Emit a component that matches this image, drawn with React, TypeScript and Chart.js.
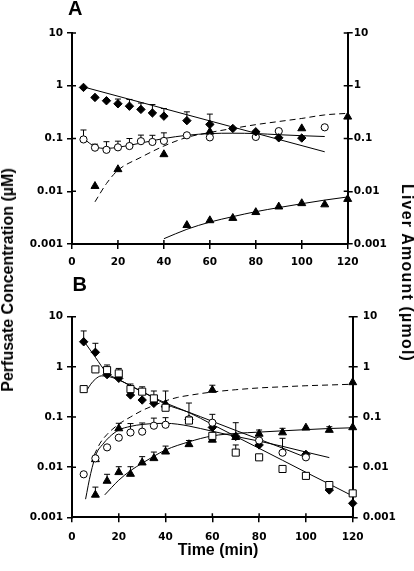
import { useEffect, useRef } from "react";
import { Chart, registerables } from "chart.js";
Chart.register(...registerables);

// ---------- shared axis ticks ----------
const xTickValues = [0, 20, 40, 60, 80, 100, 120];
const yTickValues = [0.001, 0.01, 0.1, 1, 10];
const yTickLabels = ["0.001", "0.01", "0.1", "1", "10"];

// ---------- Panel A ----------
const aDiaT = [5, 10, 15, 20, 25, 30, 35, 40, 50, 60, 70, 80, 90, 100];
const aDiaV = [0.93, 0.6, 0.52, 0.455, 0.41, 0.356, 0.305, 0.265, 0.218, 0.185, 0.155, 0.134, 0.103, 0.102];
const aDiaErr = [null, null, null, 0.56, 0.55, 0.47, 0.44, 0.37, 0.32, 0.29, null, null, null, null];

const aCirT = [5, 10, 15, 20, 25, 30, 35, 40, 50, 60, 80, 90, 110];
const aCirV = [0.096, 0.067, 0.061, 0.068, 0.072, 0.089, 0.086, 0.09, 0.115, 0.105, 0.107, 0.138, 0.163];
const aCirErr = [0.145, 0.078, 0.087, 0.089, 0.1, 0.116, 0.115, 0.128, null, null, null, null, null];

const aTriUpT = [10, 20, 40, 60, 100, 120];
const aTriUpV = [0.0125, 0.026, 0.05, 0.134, 0.155, 0.258];

const aTriLowT = [50, 60, 70, 80, 90, 100, 110, 120];
const aTriLowV = [0.00227, 0.0028, 0.0031, 0.004, 0.0051, 0.0059, 0.0056, 0.0071];

const aDiaFitT = [5, 110];
const aDiaFitV = [0.95, 0.056];
const aCirFitT = [5, 10, 15, 20, 30, 40, 50, 60, 70, 80, 90, 100, 110];
const aCirFitV = [0.1, 0.07, 0.065, 0.068, 0.082, 0.1, 0.115, 0.124, 0.126, 0.124, 0.118, 0.113, 0.109];
const aDashFitT = [10, 15, 20, 30, 40, 50, 60, 70, 80, 90, 100, 110, 120];
const aDashFitV = [0.0063, 0.014, 0.025, 0.044, 0.072, 0.105, 0.13, 0.155, 0.183, 0.21, 0.24, 0.28, 0.3];
const aLowFitT = [40, 50, 60, 70, 80, 90, 100, 110, 120];
const aLowFitV = [0.00126, 0.0019, 0.0026, 0.0033, 0.0041, 0.0049, 0.0058, 0.0068, 0.0078];

// ---------- Panel B ----------
const bDiaT = [5, 10, 15, 20, 25, 30, 35, 40, 50, 60, 70, 80, 100, 110, 120];
const bDiaV = [3.16, 1.95, 0.7, 0.59, 0.275, 0.218, 0.187, 0.16, 0.09, 0.062, 0.041, 0.0277, 0.018, 0.0035, 0.0019];
const bDiaErr = [5.2, 2.95, null, null, null, null, null, null, null, null, null, null, null, null, null];

const bSqT = [5, 10, 15, 20, 25, 30, 35, 40, 50, 60, 70, 80, 90, 100, 110, 120];
const bSqV = [0.36, 0.89, 0.86, 0.74, 0.36, 0.32, 0.235, 0.153, 0.085, 0.042, 0.0195, 0.0157, 0.0092, 0.0067, 0.0044, 0.003];
const bSqErr = [null, null, 1.09, 0.93, 0.455, 0.4, 0.33, null, 0.19, null, 0.0277, null, null, null, null, null];

const bCirT = [5, 10, 15, 20, 25, 30, 35, 40, 50, 60, 80, 90, 100];
const bCirV = [0.0072, 0.015, 0.0248, 0.0387, 0.049, 0.051, 0.067, 0.07, 0.09, 0.077, 0.034, 0.0194, 0.0157];
const bCirErr = [null, null, null, null, 0.074, 0.076, 0.095, 0.097, null, 0.113, null, 0.0376, null];

const bTriT = [10, 15, 20, 25, 30, 35, 40, 50, 60, 70, 80, 90, 100, 110, 120];
const bTriV = [0.0028, 0.0053, 0.0079, 0.0073, 0.0123, 0.015, 0.0203, 0.0285, 0.035, 0.0395, 0.046, 0.049, 0.061, 0.055, 0.062];
const bTriErr = [0.004, 0.0072, 0.0102, 0.0102, 0.0162, 0.02, 0.0263, 0.034, 0.041, 0.077, 0.055, 0.0595, null, 0.064, null];

const bTriDT = [10, 20, 40, 60, 120];
const bTriDV = [0.0143, 0.059, 0.18, 0.345, 0.49];
const bTriDErr = [null, 0.075, 0.33, 0.43, null];

const bDiaFitT = [5, 10, 15, 20, 25, 30, 35, 40, 50, 60, 70, 80, 90, 100];
const bDiaFitV = [3.3, 1.55, 0.75, 0.56, 0.42, 0.32, 0.24, 0.18, 0.124, 0.082, 0.054, 0.036, 0.024, 0.0156];
const bSqFitT = [6.5, 8, 10, 12.5, 15, 20, 25, 30, 35, 40, 50, 60, 70, 80, 90, 100, 110, 120];
const bSqFitV = [0.35, 0.45, 0.57, 0.66, 0.65, 0.55, 0.42, 0.32, 0.245, 0.19, 0.123, 0.071, 0.041, 0.0237, 0.0137, 0.0079, 0.0046, 0.00266];
const bCirFitT = [5.8, 8, 10.5, 13, 16, 20, 25, 30, 35, 40, 45, 50, 60, 70, 80, 90, 100, 110];
const bCirFitV = [0.0023, 0.0075, 0.019, 0.028, 0.04, 0.055, 0.065, 0.071, 0.074, 0.075, 0.072, 0.066, 0.052, 0.041, 0.033, 0.026, 0.02, 0.0155];
const bDashFitT = [9.5, 12, 15, 20, 25, 30, 35, 40, 45, 50, 60, 70, 80, 90, 100, 110, 120];
const bDashFitV = [0.0175, 0.03, 0.045, 0.072, 0.1, 0.135, 0.17, 0.21, 0.245, 0.27, 0.315, 0.35, 0.38, 0.4, 0.42, 0.435, 0.45];
const bTriFitT = [14, 20, 25, 30, 35, 40, 50, 60, 70, 80, 90, 100, 110, 120];
const bTriFitV = [0.0028, 0.0055, 0.0085, 0.012, 0.0165, 0.022, 0.032, 0.042, 0.047, 0.05, 0.053, 0.056, 0.059, 0.061];

// ---------- helpers ----------
const pts = (t: number[], v: number[]) => t.map((x, i) => ({ x, y: v[i] }));

const diamond = { pointStyle: "rectRot", pointRadius: 4.2, pointBackgroundColor: "#000", pointBorderColor: "#000", pointBorderWidth: 1 };
const circle = { pointStyle: "circle", pointRadius: 3.6, pointBackgroundColor: "#fff", pointBorderColor: "#000", pointBorderWidth: 1 };
const triangle = { pointStyle: "triangle", pointRadius: 4.6, pointBackgroundColor: "#000", pointBorderColor: "#000", pointBorderWidth: 1 };
const square = { pointStyle: "rect", pointRadius: 5, pointBackgroundColor: "#fff", pointBorderColor: "#000", pointBorderWidth: 1 };

function markers(t: number[], v: number[], style: any, err: any[] | null, axis = "y") {
  return { data: pts(t, v), showLine: false, ...style, pointHoverRadius: style.pointRadius, errUpper: err, yAxisID: axis, order: 1, clip: false };
}
function fit(t: number[], v: number[], dashed: boolean, axis = "y") {
  return {
    data: pts(t, v), showLine: true, pointRadius: 0, borderColor: "#000", borderWidth: 1,
    borderDash: dashed ? [6, 4] : [], cubicInterpolationMode: "monotone", yAxisID: axis, order: 2, clip: false,
  };
}

const errorBars = {
  id: "errorBars",
  beforeDatasetsDraw(chart: any) {
    const ctx = chart.ctx;
    chart.data.datasets.forEach((ds: any, di: number) => {
      const err = ds.errUpper;
      if (!err) return;
      const meta = chart.getDatasetMeta(di);
      const ys = chart.scales[meta.yAxisID];
      ctx.save();
      ctx.strokeStyle = "#000";
      ctx.lineWidth = 1;
      meta.data.forEach((el: any, i: number) => {
        const e = err[i];
        if (e == null) return;
        const yt = ys.getPixelForValue(e);
        ctx.beginPath();
        ctx.moveTo(el.x, el.y);
        ctx.lineTo(el.x, yt);
        ctx.moveTo(el.x - 3, yt);
        ctx.lineTo(el.x + 3, yt);
        ctx.stroke();
      });
      ctx.restore();
    });
  },
};

const innerTicks = {
  id: "innerTicks",
  afterDraw(chart: any) {
    const ctx = chart.ctx;
    const { x, y, y2 } = chart.scales;
    const a = chart.chartArea;
    ctx.save();
    ctx.strokeStyle = "#000";
    ctx.lineWidth = 1.5;
    ctx.beginPath();
    xTickValues.forEach((v) => {
      const px = x.getPixelForValue(v);
      ctx.moveTo(px, a.bottom);
      ctx.lineTo(px, a.bottom - 4);
    });
    yTickValues.forEach((v) => {
      const py = y.getPixelForValue(v);
      ctx.moveTo(a.left, py);
      ctx.lineTo(a.left + 4, py);
      const py2 = y2.getPixelForValue(v);
      ctx.moveTo(a.right, py2);
      ctx.lineTo(a.right - 4, py2);
    });
    ctx.stroke();
    ctx.restore();
  },
};

const tickFont = { family: "'DejaVu Sans', sans-serif", size: 10.5, weight: "bold" };

function yAxis(position: string, width: number, padding: number) {
  return {
    type: "logarithmic",
    position,
    min: 0.001,
    max: 10,
    afterBuildTicks: (s: any) => { s.ticks = yTickValues.map((v) => ({ value: v })); },
    ticks: { font: tickFont, color: "#000", padding, autoSkip: false, callback: (_v: any, i: number) => yTickLabels[i] },
    grid: { drawOnChartArea: false, drawTicks: true, tickLength: 5, color: "#000", lineWidth: 1.5 },
    border: { color: "#000", width: 2 },
    afterFit: (s: any) => { s.width = width; },
  };
}

function makeConfig(datasets: any[], o: { top: number; xH: number; rightW: number; xPad: number; rPad: number }) {
  return {
    type: "scatter",
    data: { datasets },
    options: {
      animation: false,
      responsive: false,
      events: [],
      layout: { padding: { top: o.top, left: 0, right: 0, bottom: 0 } },
      plugins: { legend: { display: false }, tooltip: { enabled: false } },
      scales: {
        x: {
          type: "linear",
          min: 0,
          max: 120,
          afterBuildTicks: (s: any) => { s.ticks = xTickValues.map((v) => ({ value: v })); },
          ticks: { font: tickFont, color: "#000", padding: o.xPad, maxRotation: 0, autoSkip: false },
          grid: { drawOnChartArea: false, drawTicks: true, tickLength: 5, color: "#000", lineWidth: 1.5 },
          border: { color: "#000", width: 2 },
          afterFit: (s: any) => { s.height = o.xH; },
        },
        y: yAxis("left", 72, 4),
        y2: yAxis("right", o.rightW, o.rPad),
      },
    },
    plugins: [errorBars, innerTicks],
  };
}

const datasetsA = [
  fit(aDiaFitT, aDiaFitV, false),
  fit(aCirFitT, aCirFitV, false),
  fit(aDashFitT, aDashFitV, true, "y2"),
  fit(aLowFitT, aLowFitV, false, "y2"),
  markers(aDiaT, aDiaV, diamond, aDiaErr),
  markers(aCirT, aCirV, circle, aCirErr),
  markers(aTriUpT, aTriUpV, triangle, null, "y2"),
  markers(aTriLowT, aTriLowV, triangle, null, "y2"),
];

const datasetsB = [
  fit(bDiaFitT, bDiaFitV, false),
  fit(bSqFitT, bSqFitV, false),
  fit(bCirFitT, bCirFitV, false),
  fit(bDashFitT, bDashFitV, true, "y2"),
  fit(bTriFitT, bTriFitV, false, "y2"),
  markers(bSqT, bSqV, square, bSqErr),
  markers(bCirT, bCirV, circle, bCirErr),
  markers(bDiaT, bDiaV, diamond, bDiaErr),
  markers(bTriDT, bTriDV, triangle, bTriDErr, "y2"),
  markers(bTriT, bTriV, triangle, bTriErr, "y2"),
];

function Panel({ top, height, datasets, opts }: any) {
  const ref = useRef<HTMLCanvasElement>(null);
  useEffect(() => {
    if (!ref.current) return;
    const chart = new Chart(ref.current, makeConfig(datasets, opts) as any);
    return () => chart.destroy();
  }, []);
  return (
    <canvas
      ref={ref}
      width={414}
      height={height}
      style={{ position: "absolute", left: 0, top, width: 414, height }}
    />
  );
}

const titleFont = "'Liberation Sans', Arial, sans-serif";

export default function App() {
  return (
    <div style={{ position: "absolute", left: 0, top: 0, width: 414, height: 571, background: "#fff", overflow: "hidden" }}>
      <Panel top={0} height={272} datasets={datasetsA} opts={{ top: 33, xH: 28, rightW: 66.3, xPad: 7, rPad: 1 }} />
      <Panel top={272} height={299} datasets={datasetsB} opts={{ top: 44.7, xH: 53.7, rightW: 61.3, xPad: 9, rPad: 5 }} />
      <div style={{ position: "absolute", left: 68, top: -2, font: `bold 20px ${titleFont}`, lineHeight: "20px" }}>A</div>
      <div style={{ position: "absolute", left: 72.5, top: 274, font: `bold 20px ${titleFont}`, lineHeight: "20px" }}>B</div>
      <div style={{ position: "absolute", left: 218, top: 542, transform: "translateX(-50%)", whiteSpace: "nowrap", font: `bold 16px ${titleFont}`, lineHeight: "16px" }}>
        Time (min)
      </div>
      <div style={{ position: "absolute", left: 7.7, top: 280, transform: "translate(-50%, -50%) rotate(-90deg)", whiteSpace: "nowrap", font: `bold 16px ${titleFont}`, lineHeight: "16px" }}>
        Perfusate Concentration (µM)
      </div>
      <div style={{ position: "absolute", left: 407.3, top: 273.3, transform: "translate(-50%, -50%) rotate(90deg)", whiteSpace: "nowrap", font: `bold 16px ${titleFont}`, lineHeight: "16px", letterSpacing: "1.2px" }}>
        Liver Amount (µmol)
      </div>
    </div>
  );
}
